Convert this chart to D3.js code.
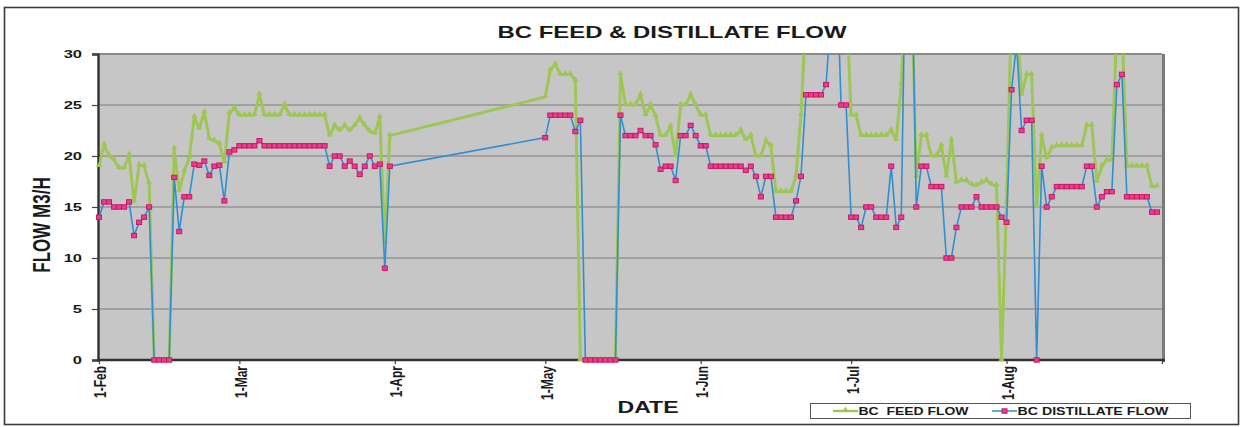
<!DOCTYPE html>
<html>
<head>
<meta charset="utf-8">
<script src="https://cdn.jsdelivr.net/npm/d3@7"></script>
<style>
  body { margin: 0; background: #fff; }
  svg { display: block; font-family: "Liberation Sans", Arial, sans-serif; }
</style>
</head>
<body>
<svg width="1243" height="427"></svg>
<script>
// periodos com leitura diaria (abril sem dados)
const dateRuns = [["2009-02-01", "2009-03-31"], ["2009-05-01", "2009-08-31"]];

// vazao de alimentacao (m3/h)
const feedFeb = [19, 21.1, 20, 19.6, 18.8, 18.8, 20.1, 15.5, 19.1, 19, 17.3, 0, 0, 0, 0, 20.7, 16.6, 18.5, 19.8, 23.8,
  22.7, 24.3, 21.7, 21.5, 21.2, 19.4, 24.2, 24.7];
const feedMar = [24, 24, 24, 24, 26, 24, 24, 24, 24, 25, 24, 24, 24, 24, 24, 24, 24, 24, 22, 23,
  22.5, 23, 22.5, 23, 23.7, 23, 22.4, 22.2, 23.8, 11.5, 22];
const feedMay = [25.8, 28.4, 29, 28, 28, 28, 27.4, 0, 0, 0, 0, 0, 0, 0, 0, 28, 25, 25, 25, 26,
  24, 25, 23.9, 22, 22, 22.9, 20, 25, 25, 26, 25];
const feedJun = [24, 24, 22, 22, 22, 22, 22, 22, 22.5, 21.6, 22, 20, 20, 21.5, 21, 16.5, 16.5, 16.5, 16.5, 18,
  24, 34, 36, 36, 36, 36, 36, 36, 36, 36];
const feedJul = [24, 24, 22, 22, 22, 22, 22, 22, 22.5, 21.6, 27, 40, 38, 18, 22, 22, 20, 20, 21, 18,
  21.6, 17.4, 17.6, 17.6, 17.2, 17.1, 17.4, 17.6, 17.2, 17.1, 0];
const feedAug = [15.5, 35, 34, 26, 28, 28, 15, 22, 19.8, 20.8, 21, 21, 21, 21, 21, 21, 23, 23, 17.5, 19,
  19.6, 19.6, 33, 33, 19, 19, 19, 19, 19, 17, 17];

// vazao de destilado (m3/h)
const distFeb = [14, 15.5, 15.5, 15, 15, 15, 15.5, 12.2, 13.5, 14, 15, 0, 0, 0, 0, 17.9, 12.6, 16, 16, 19.2,
  19.1, 19.5, 18.1, 19, 19.1, 15.6, 20.4, 20.6];
const distMar = [21, 21, 21, 21, 21.5, 21, 21, 21, 21, 21, 21, 21, 21, 21, 21, 21, 21, 21, 19, 20,
  20, 19, 19.5, 19, 18.2, 19, 20, 19, 19.2, 9, 19];
const distMay = [21.8, 24, 24, 24, 24, 24, 22.4, 23.5, 0, 0, 0, 0, 0, 0, 0, 24, 22, 22, 22, 22.5,
  22, 22, 21.1, 18.7, 19, 19, 17.6, 22, 22, 23, 22];
const distJun = [21, 21, 19, 19, 19, 19, 19, 19, 19, 18.6, 19, 18, 16, 18, 18, 14, 14, 14, 14, 15.6,
  18, 26, 26, 26, 26, 27, 34, 40, 25, 25];
const distJul = [14, 14, 13, 15, 15, 14, 14, 14, 19, 13, 14, 45, 42, 15, 19, 19, 17, 17, 17, 10,
  10, 13, 15, 15, 15, 16, 15, 15, 15, 15, 14];
const distAug = [13.5, 26.5, 31, 22.5, 23.5, 23.5, 0, 19, 15, 16, 17, 17, 17, 17, 17, 17, 19, 19, 15, 16,
  16.5, 16.5, 27, 28, 16, 16, 16, 16, 16, 14.5, 14.5];

const seriesNames = ["BC  FEED FLOW", "BC DISTILLATE FLOW"];
const tickLabels = ["1-Feb", "1-Mar", "1-Apr", "1-May", "1-Jun", "1-Jul", "1-Aug", ""];
const tickDates = ["2009-02-01", "2009-03-01", "2009-04-01", "2009-05-01", "2009-06-01", "2009-07-01", "2009-08-01", "2009-09-01"];
const yTicks = [0, 5, 10, 15, 20, 25, 30];

// cores e area do grafico
const FEED_COLOR = "#9dc653";
const DIST_LINE = "#2f8fd2";
const DIST_MARK = "#cf1466";
const DIST_FILL = "#e6408a";
const plot = { left: 99, right: 1162, top: 54, bottom: 360 };

const svg = d3.select("svg");
const parse = d3.utcParse("%Y-%m-%d");

const dates = dateRuns.flatMap(([a, b]) => d3.utcDay.range(parse(a), d3.utcDay.offset(parse(b), 1)));
const feed = [].concat(feedFeb, feedMar, feedMay, feedJun, feedJul, feedAug);
const dist = [].concat(distFeb, distMar, distMay, distJun, distJul, distAug);
const feedData = dates.map((d, i) => ({ date: d, value: feed[i] }));
const distData = dates.map((d, i) => ({ date: d, value: dist[i] }));

const x = d3.scaleUtc()
  .domain([parse(tickDates[0]), parse(tickDates[tickDates.length - 1])])
  .range([plot.left, plot.right]);
const y = d3.scaleLinear().domain([0, 30]).range([plot.bottom, plot.top]);

// moldura externa
svg.append("rect")
  .attr("x", 4.5).attr("y", 7.5)
  .attr("width", 1234).attr("height", 417)
  .attr("fill", "#fff")
  .attr("stroke", "#3a3a3a")
  .attr("stroke-width", 1.6);

// fundo cinza da area de plotagem
svg.append("rect")
  .attr("x", plot.left).attr("y", plot.top)
  .attr("width", plot.right - plot.left).attr("height", plot.bottom - plot.top)
  .attr("fill", "#c6c6c6");

// sombra a direita
svg.append("line")
  .attr("x1", plot.right + 1.5).attr("x2", plot.right + 1.5)
  .attr("y1", plot.top).attr("y2", plot.bottom + 2)
  .attr("stroke", "#7a7a7a").attr("stroke-width", 3);

// linhas de grade
svg.selectAll(".grid")
  .data(yTicks.filter(v => v > 0))
  .enter()
  .append("line")
  .attr("class", "grid")
  .attr("x1", plot.left).attr("x2", plot.right)
  .attr("y1", d => y(d)).attr("y2", d => y(d))
  .attr("stroke", d => d === 30 ? "#8a8a8a" : "#7b7b7b")
  .attr("stroke-width", d => d === 30 ? 1.8 : 1.2);

// eixo y
const yAxis = svg.append("g")
  .attr("transform", `translate(${plot.left - 1},0)`)
  .call(d3.axisLeft(y).tickValues(yTicks).tickSize(6).tickPadding(10));
yAxis.select(".domain").attr("stroke", "#333").attr("stroke-width", 2.4);
yAxis.selectAll(".tick line").attr("stroke", "#444").attr("stroke-width", 1.2);
yAxis.selectAll("text")
  .attr("font-size", 11)
  .attr("font-weight", "bold")
  .attr("fill", "#1a1a1a")
  .each(function () {
    const len = this.getComputedTextLength();
    d3.select(this).attr("textLength", len * 1.5).attr("lengthAdjust", "spacingAndGlyphs");
  });

// eixo x (datas)
const xAxis = svg.append("g")
  .attr("transform", `translate(0,${plot.bottom})`)
  .call(d3.axisBottom(x)
    .tickValues(tickDates.map(parse))
    .tickSize(4)
    .tickFormat((d, i) => tickLabels[i]));
xAxis.select(".domain").remove();
xAxis.selectAll(".tick line").attr("stroke", "#444").attr("stroke-width", 1.2);
xAxis.selectAll("text")
  .attr("font-size", 12)
  .attr("font-weight", "bold")
  .attr("fill", "#1a1a1a")
  .attr("text-anchor", "end")
  .attr("x", -6)
  .attr("y", 0)
  .attr("dy", "0.35em")
  .attr("transform", "translate(1,0) scale(1.4,1) rotate(-90)");

svg.append("line")
  .attr("x1", plot.left - 2).attr("x2", plot.right + 3)
  .attr("y1", plot.bottom).attr("y2", plot.bottom)
  .attr("stroke", "#333").attr("stroke-width", 2.4);

// recorte das linhas
svg.append("defs").append("clipPath")
  .attr("id", "plot-clip")
  .append("rect")
  .attr("x", plot.left).attr("y", plot.top)
  .attr("width", plot.right - plot.left).attr("height", plot.bottom - plot.top + 1);

const line = d3.line().x(d => x(d.date)).y(d => y(d.value));

// serie alimentacao
svg.append("g").attr("clip-path", "url(#plot-clip)")
  .append("path")
  .datum(feedData)
  .attr("d", line)
  .attr("fill", "none")
  .attr("stroke", FEED_COLOR)
  .attr("stroke-width", 2.9)
  .attr("stroke-linejoin", "round");

const tri = d3.symbol(d3.symbolTriangle, 16);
svg.selectAll(".feed-mark")
  .data(feedData.filter(d => d.value <= 30))
  .enter()
  .append("path")
  .attr("class", "feed-mark")
  .attr("d", tri)
  .attr("transform", d => `translate(${x(d.date)},${y(d.value) - 1})`)
  .attr("fill", FEED_COLOR);

// serie destilado
svg.append("g").attr("clip-path", "url(#plot-clip)")
  .append("path")
  .datum(distData)
  .attr("d", line)
  .attr("fill", "none")
  .attr("stroke", DIST_LINE)
  .attr("stroke-width", 1.6);

svg.selectAll(".dist-mark")
  .data(distData.filter(d => d.value <= 30))
  .enter()
  .append("rect")
  .attr("class", "dist-mark")
  .attr("x", d => x(d.date) - 2.5)
  .attr("y", d => y(d.value) - 2.2)
  .attr("width", 5)
  .attr("height", 4.4)
  .attr("fill", DIST_FILL)
  .attr("stroke", DIST_MARK)
  .attr("stroke-width", 1);

// titulos
svg.append("text")
  .attr("x", 672).attr("y", 38)
  .attr("text-anchor", "middle")
  .attr("font-size", 17)
  .attr("font-weight", "bold")
  .attr("fill", "#1a1a1a")
  .attr("textLength", 349)
  .attr("lengthAdjust", "spacingAndGlyphs")
  .text("BC FEED & DISTILLATE FLOW");

svg.append("text")
  .attr("transform", "translate(50,225) scale(1.4,1) rotate(-90)")
  .attr("text-anchor", "middle")
  .attr("font-size", 17)
  .attr("font-weight", "bold")
  .attr("fill", "#1a1a1a")
  .text("FLOW M3/H");

svg.append("text")
  .attr("x", 648).attr("y", 413)
  .attr("text-anchor", "middle")
  .attr("font-size", 17)
  .attr("font-weight", "bold")
  .attr("fill", "#1a1a1a")
  .attr("textLength", 61)
  .attr("lengthAdjust", "spacingAndGlyphs")
  .text("DATE");

// legenda
const legend = svg.append("g");
legend.append("rect")
  .attr("x", 810.5).attr("y", 403.5)
  .attr("width", 380).attr("height", 15)
  .attr("fill", "#fff")
  .attr("stroke", "#555");

const legendItems = [
  { name: seriesNames[0], x0: 833, width: 110, color: FEED_COLOR, lw: 2.4 },
  { name: seriesNames[1], x0: 992, width: 151, color: DIST_LINE, lw: 1.5 }
];
legendItems.forEach((it, i) => {
  legend.append("line")
    .attr("x1", it.x0).attr("x2", it.x0 + 25)
    .attr("y1", 411).attr("y2", 411)
    .attr("stroke", it.color).attr("stroke-width", it.lw);
  if (i === 0) {
    legend.append("path")
      .attr("d", tri)
      .attr("transform", `translate(${it.x0 + 12.5},410)`)
      .attr("fill", FEED_COLOR);
  } else {
    legend.append("rect")
      .attr("x", it.x0 + 10).attr("y", 408.8)
      .attr("width", 5).attr("height", 4.4)
      .attr("fill", DIST_FILL).attr("stroke", DIST_MARK);
  }
  legend.append("text")
    .attr("x", it.x0 + 25.5).attr("y", 414.8)
    .attr("font-size", 10)
    .attr("font-weight", "bold")
    .attr("fill", "#1a1a1a")
    .attr("xml:space", "preserve")
    .style("white-space", "pre")
    .attr("textLength", it.width)
    .attr("lengthAdjust", "spacingAndGlyphs")
    .text(it.name);
});
</script>
</body>
</html>
